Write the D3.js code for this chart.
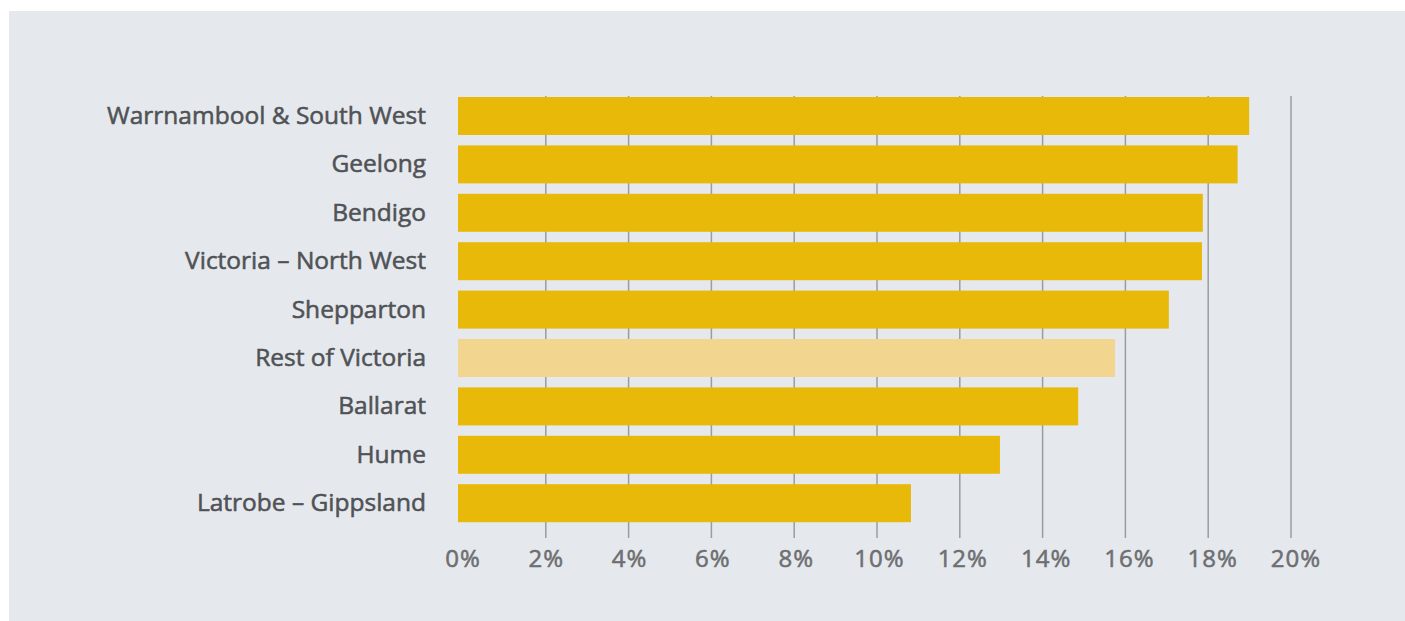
<!DOCTYPE html>
<html>
<head>
<meta charset="utf-8">
<script src="https://d3js.org/d3.v7.min.js"></script>
<style>
body { margin: 0; background: #fff; }
svg { display: block; }
text { font-family: 'Open Sans', sans-serif; }
</style>
</head>
<body>
<div id="chart"></div>
<script>

var regions = ["Warrnambool & South West", "Geelong", "Bendigo", "Victoria \u2013 North West",
	"Shepparton", "Rest of Victoria", "Ballarat", "Hume", "Latrobe \u2013 Gippsland"];
var shares = [18.99, 18.71, 17.87, 17.85, 17.05, 15.75, 14.86, 12.97, 10.82];
var highlighted = ["Rest of Victoria"];
var tickValues = [0, 2, 4, 6, 8, 10, 12, 14, 16, 18, 20];

var width = 1405;
var height = 621;

var svg = d3.select("#chart").append("svg")
.attr("width", width).attr("height", height);

// panel background
svg.append("rect")
.attr("x", 9).attr("y", 11)
.attr("width", width - 9).attr("height", height - 11)
.style("fill", "#e5e9ed");

var xScale = d3.scaleLinear().domain([0, 20]).range([463, 1291]);
var yScale = d3.scaleBand().domain(regions)
.range([86.6, 532.6]).paddingInner(0.215).paddingOuter(0.215);

// gridlines
svg.append("g").selectAll("line").data(tickValues.slice(1)).enter()
.append("line")
.attr("x1", function (d) { return xScale(d); })
.attr("x2", function (d) { return xScale(d); })
.attr("y1", 96).attr("y2", 538)
.style("stroke", "#9b9c9e").style("stroke-width", 1.5);

// bars (they start a touch left of the zero line in the original)
svg.append("g").selectAll("rect").data(regions).enter()
.append("rect")
.attr("x", xScale(0) - 5)
.attr("y", function (d) { return yScale(d); })
.attr("width", function (d, i) { return xScale(shares[i]) - xScale(0) + 5; })
.attr("height", yScale.bandwidth())
.style("fill", function (d) { return highlighted.indexOf(d) >= 0 ? "#f2d58e" : "#e8b908"; });

// category labels - thin stroke fakes a medium weight
svg.append("g").selectAll("text").data(regions).enter()
.append("text")
.attr("x", 426)
.attr("y", function (d) { return yScale(d) + yScale.bandwidth() / 2 + 8; })
.attr("text-anchor", "end")
.style("font-size", "24.5px")
.style("fill", "#505256")
.style("stroke", "#505256").style("stroke-width", 0.55)
.text(function (d) { return d; });

// x axis labels
svg.append("g").selectAll("text").data(tickValues).enter()
.append("text")
.attr("x", function (d) { return xScale(d) + d * 0.25; })
.attr("y", 567)
.attr("text-anchor", "middle")
.style("font-size", "24px")
.style("letter-spacing", "1px")
.style("fill", "#6e6f72")
.style("stroke", "#6e6f72").style("stroke-width", 0.55)
.text(function (d) { return d + "%"; });

</script>
</body>
</html>
